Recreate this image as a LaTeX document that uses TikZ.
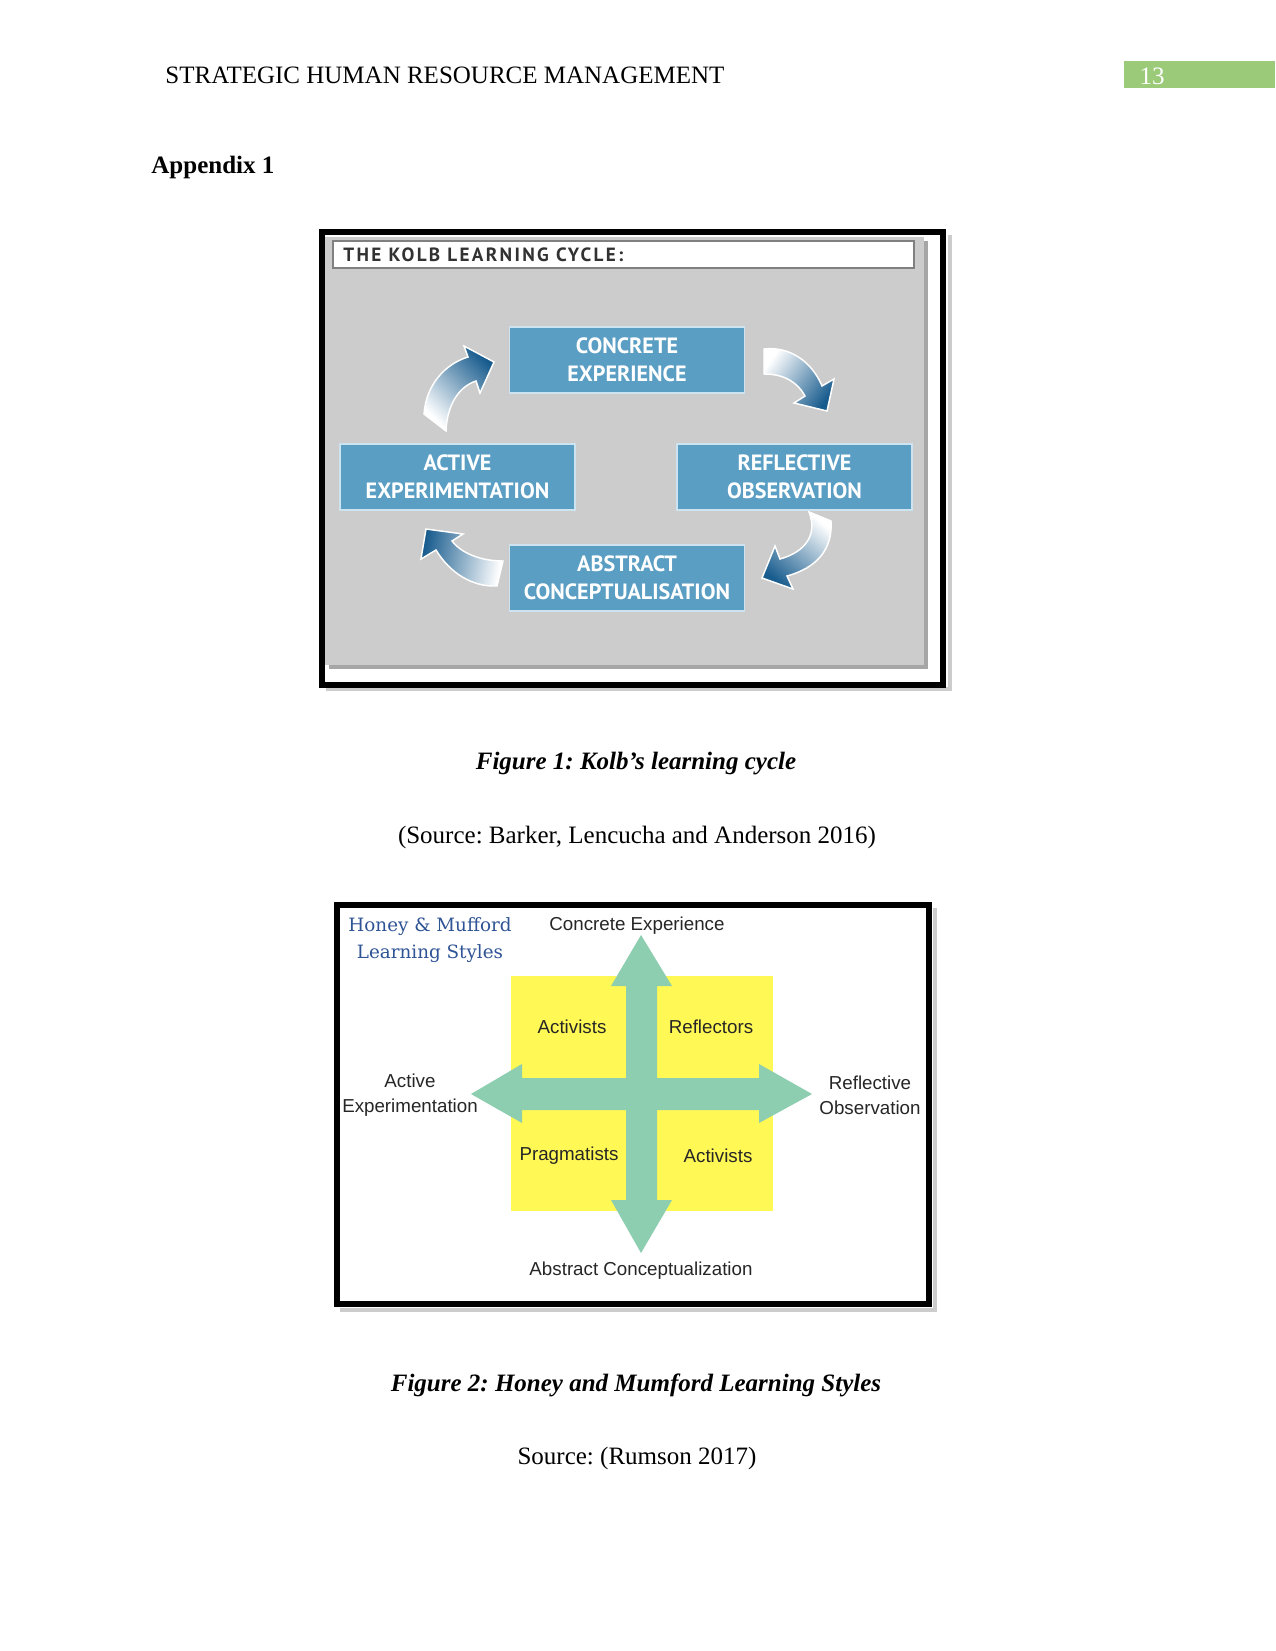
\documentclass[tikz,border=0pt]{standalone}
\usepackage{fontspec}
\setmainfont{Liberation Serif}
\newfontfamily\arialf{Liberation Sans}
\newfontfamily\kolbf{PT Sans}
\newfontfamily\kolbtf[LetterSpace=12]{PT Sans}
\newfontfamily\hmf{DejaVu Serif}
\definecolor{kgray}{RGB}{204,204,204}
\definecolor{kbox}{RGB}{91,158,196}
\definecolor{kedge}{RGB}{205,228,240}
\definecolor{karrow}{RGB}{24,92,142}
\definecolor{kmid}{RGB}{100,162,200}
\definecolor{hmyellow}{RGB}{255,248,85}
\definecolor{hmgreen}{RGB}{141,206,176}
\definecolor{hmblue}{RGB}{47,84,150}
\definecolor{pggreen}{RGB}{155,203,120}
\definecolor{ttext}{RGB}{50,50,50}
\frenchspacing
\begin{document}
\begin{tikzpicture}[x=0.48pt,y=-0.48pt,
  kolbbox/.style={draw=kedge, line width=0.8pt, fill=kbox, minimum width=112.8pt, minimum height=31.7pt,
     text=white, font=\kolbf\bfseries\fontsize{10.6}{13.4}\selectfont, align=center, inner sep=0pt},
  karr/.style={draw=white, line width=0.7pt, top color=white, middle color=kmid, bottom color=karrow},
  hmtext/.style={font=\arialf\fontsize{9}{12.2}\selectfont, text=black!85, align=center, inner sep=0pt},
  caption/.style={font=\fontsize{12}{14}\selectfont\bfseries\itshape, inner sep=0pt},
  plain/.style={font=\fontsize{12}{14}\selectfont, inner sep=0pt},
  frame/.style={draw=black, line width=2.88pt}]
\useasboundingbox (0,0) rectangle (1275,1651);
\fill[white] (0,0) rectangle (1275,1651);

% header
\node[plain, anchor=west] (hdr) at (165,75.5) {STRATEGIC HUMAN RESOURCE MANAGEMENT};
\fill[pggreen] (1124,61) rectangle (1275,88.5);
\node[plain, text=white] (pg) at (1152,76) {13};
\node[plain, font=\fontsize{12}{14}\selectfont\bfseries, anchor=west] (app) at (151,167) {Appendix 1};

% ---------------- Figure 1 ----------------
\fill[black!35] (329,241) rectangle (928,669);
\fill[kgray] (325,237) rectangle (924,665);
\draw[black!20, line width=1.5pt] (326,689) -- (950,689) -- (950,235);
\draw[frame] (322,232.5) rectangle (943,684.5);
\draw[black!50, line width=1.2pt, fill=white] (333,241) rectangle (914,268);
\node[font=\kolbtf\bfseries\fontsize{9.2}{11}\selectfont, text=ttext, anchor=west, inner sep=0pt] (ttl) at (343,255) {THE KOLB LEARNING CYCLE:};

\node[kolbbox] (ce) at (627,360) {CONCRETE\\EXPERIENCE};
\node[kolbbox] (ae) at (457.5,477) {ACTIVE\\EXPERIMENTATION};
\node[kolbbox] (ro) at (794.5,477) {REFLECTIVE\\OBSERVATION};
\node[kolbbox] (ac) at (627,578) {ABSTRACT\\CONCEPTUALISATION};

% curved arrows
\shadedraw[karr, shading angle=135]
  (424,414) .. controls (426,385) and (445,364) .. (468,357) -- (464,346) -- (494,362) -- (480,393) -- (476,381)
  .. controls (458,387) and (447,406) .. (446,431) -- cycle;
\shadedraw[karr, shading angle=55]
  (764,349) .. controls (790,346) and (812,362) .. (822,386) -- (834,379) -- (827,411) -- (794,403) -- (805,396)
  .. controls (798,383) and (785,374) .. (764,374) -- cycle;
\shadedraw[karr, shading angle=-40]
  (809,512) .. controls (818,535) and (805,552) .. (780,559) -- (775,546) -- (762,578) -- (793,589) -- (787,576)
  .. controls (816,568) and (833,550) .. (831,521) -- cycle;
\shadedraw[karr, shading angle=-100]
  (503,561) .. controls (482,561) and (462,554) .. (452,541) -- (463,534) -- (426,529) -- (421,559) -- (436,550)
  .. controls (450,573) and (472,587) .. (497,586) -- cycle;

\node[caption] (cap1) at (636,764) {Figure 1: Kolb’s learning cycle};
\node[plain] (src1) at (637,837.5) {(Source: Barker, Lencucha and Anderson 2016)};

% ---------------- Figure 2 ----------------
\draw[black!20, line width=1.5pt] (340,1310) -- (935,1310) -- (935,908);
\draw[frame] (337,905) rectangle (929,1304);
\fill[hmyellow] (511,976) rectangle (773,1211);
\fill[hmgreen] (641,935) -- (672,986) -- (657,986) -- (657,1200) -- (672,1200) -- (641,1253) -- (611,1200) -- (626,1200) -- (626,986) -- (611,986) -- cycle;
\fill[hmgreen] (471,1094) -- (522,1064) -- (522,1078) -- (759,1078) -- (759,1064) -- (812,1094) -- (759,1123) -- (759,1110) -- (522,1110) -- (522,1123) -- cycle;

\node[font=\hmf\fontsize{8.8}{12.8}\selectfont, text=hmblue, align=center, inner sep=0pt] (hm) at (430,940) {Honey \& Mufford\\Learning Styles};
\node[hmtext] (cexp) at (637,926) {Concrete Experience};
\node[hmtext] (act1) at (572,1027) {Activists};
\node[hmtext] (refl) at (711,1027) {Reflectors};
\node[hmtext] (aexp) at (410,1095) {Active\\Experimentation};
\node[hmtext] (robs) at (870,1095) {Reflective\\Observation};
\node[hmtext] (prag) at (569,1156) {Pragmatists};
\node[hmtext] (act2) at (718,1156) {Activists};
\node[hmtext] (acon) at (641,1271) {Abstract Conceptualization};

\node[caption] (cap2) at (636,1385) {Figure 2: Honey and Mumford Learning Styles};
\node[plain] (src2) at (637,1458.5) {Source: (Rumson 2017)};
\end{tikzpicture}
\end{document}
